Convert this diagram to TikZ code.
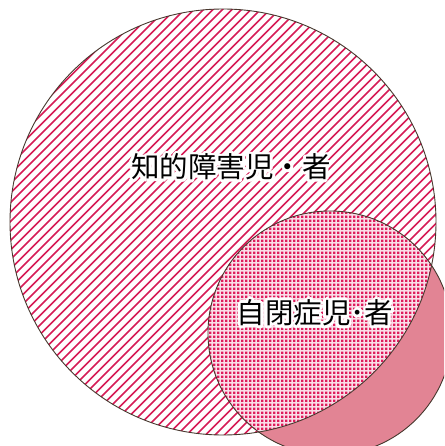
\documentclass[tikz,border=0pt]{standalone}
\usepackage{fontspec}
\newfontfamily\jpfont{Noto Sans CJK JP}
\usetikzlibrary{patterns.meta}
\definecolor{stripe}{RGB}{214,28,86}
\definecolor{checker}{RGB}{222,28,92}
\definecolor{checkbg}{RGB}{250,222,232}
\definecolor{pinkfill}{RGB}{226,132,148}
\definecolor{edge}{RGB}{70,55,45}
\tikzdeclarepattern{
  name=checkdots,
  type=uncolored,
  bounding box={(0pt,0pt) and (4.2pt,4.2pt)},
  tile size={(4.2pt,4.2pt)},
  code={\fill (0pt,0pt) rectangle (2.8pt,2.8pt);}
}
\tikzset{
  lbl/.style={font=\jpfont\fontsize{28.5}{28.5}\selectfont, inner sep=0pt},
  outline/.style={draw=edge, line width=0.9pt},
  stripeline/.style={draw=stripe, line width=1.5pt}
}
\newcommand\halolabel[3]{%
  \foreach \a in {0,30,...,330}{\node[lbl, text=white] (#1h\a) at ([shift={(\a:2.8pt)}]#2) {#3};}
  \node[lbl] (#1) at (#2) {#3};
}
\begin{document}
\begin{tikzpicture}[x=1pt,y=-1pt]
\useasboundingbox (0,0) rectangle (444,446);
\coordinate (bc) at (223,222);
\coordinate (sc) at (330,333);
\coordinate (t1) at (231,167);
\coordinate (t2) at (315,313);
\begin{scope}
\clip (0,0) rectangle (444,446);
\fill[white] (bc) circle[radius=213pt];
\begin{scope}
\clip (bc) circle[radius=213pt];
\foreach \k in {-475,-465.5,...,460} {\path[stripeline] (\k,460) -- ++(460,-460);}
\end{scope}
\fill[pinkfill] (sc) circle[radius=122pt];
\begin{scope}
\clip (bc) circle[radius=213pt];
\fill[checkbg] (sc) circle[radius=122pt];
\path[pattern=checkdots, pattern color=checker] (sc) circle[radius=122pt];
\end{scope}
\path[outline] (bc) circle[radius=213pt];
\path[outline] (sc) circle[radius=122pt];
\end{scope}
\halolabel{big}{t1}{知的障害児・者}
\halolabel{small}{t2}{自閉症児･者}
\end{tikzpicture}
\end{document}
